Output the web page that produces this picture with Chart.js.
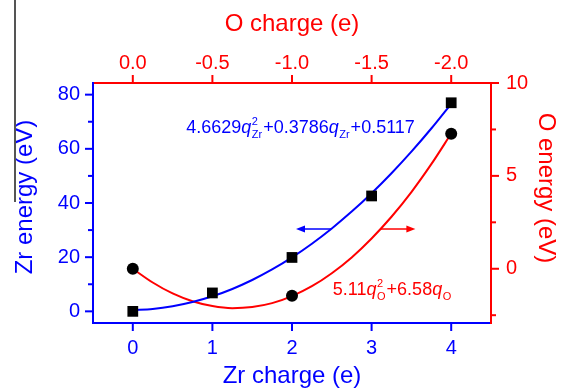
<!doctype html>
<html lang="en">
<head>
<meta charset="utf-8">
<title>Zr and O charge energy</title>
<script src="https://cdn.jsdelivr.net/npm/chart.js@4.4.1/dist/chart.umd.min.js"></script>
<style>
    html, body { margin: 0; padding: 0; background: #fff; }
    #wrap { position: relative; width: 564px; height: 392px; }
    #edge { position: absolute; left: 14px; top: 0; width: 2px; height: 202px; background: #555; }
</style>
</head>
<body>
<div id="wrap">
    <canvas id="myChart" width="564" height="392"></canvas>
    <div id="edge"></div>
</div>
<script>
    // measured points
    var zrCharge = [0, 1, 2, 3, 4]
    var zrEnergy = [0, 6.8, 19.9, 42.6, 77.0]
    var oCharge = [0, -1, -2]
    var oEnergy = [0, -1.45, 7.27]

    // fitted curves
    var zrFitCharge = [0, 0.25, 0.5, 0.75, 1, 1.25, 1.5, 1.75, 2, 2.25, 2.5, 2.75, 3, 3.25, 3.5, 3.75, 4]
    var zrFitEnergy = [0.51, 0.90, 1.87, 3.42, 5.55, 8.27, 11.57, 15.46, 19.92, 24.97, 30.60, 36.82, 43.61, 50.99, 58.96, 67.50, 76.63]
    var oFitCharge = [0, -0.125, -0.25, -0.375, -0.5, -0.625, -0.75, -0.875, -1, -1.125, -1.25, -1.375, -1.5, -1.625, -1.75, -1.875, -2]
    var oFitEnergy = [0, -0.74, -1.33, -1.75, -2.01, -2.12, -2.06, -1.85, -1.47, -0.94, -0.24, 0.61, 1.63, 2.80, 4.13, 5.63, 7.28]

    // axis ticks
    var zrChargeTicks = [0, 1, 2, 3, 4]
    var oChargeTicks = [0, -0.5, -1, -1.5, -2]
    var zrEnergyTicks = [0, 20, 40, 60, 80]
    var zrEnergyMinor = [10, 30, 50, 70]
    var oEnergyTicks = [0, 5, 10]
    var oEnergyMinor = [-2.5, 2.5, 7.5]

    var BLUE = '#0000ff'
    var RED = '#ff0000'
    var FONT = "'Liberation Sans', Arial, sans-serif"
    Chart.defaults.font.family = FONT

    function pts(xs, ys) {
        return xs.map(function (x, i) { return {x: x, y: ys[i]} })
    }
    function setTicks(list) {
        return function (s) { s.ticks = list.map(function (v) { return {value: v} }) }
    }
    function fixSize(prop, size) {
        return function (s) { s[prop] = size }
    }

    // tick marks drawn outward, major and minor
    var tickMarks = {
        x: {major: zrChargeTicks, minor: [], color: BLUE},
        x2: {major: oChargeTicks, minor: [], color: RED},
        y: {major: zrEnergyTicks, minor: zrEnergyMinor, color: BLUE},
        y2: {major: oEnergyTicks, minor: oEnergyMinor, color: RED}
    }

    var arrows = [
        {from: 2.49, to: 2.05, level: 30.4, yAxis: 'y', color: BLUE},
        {from: 3.11, to: 3.55, level: 2.14, yAxis: 'y2', color: RED}
    ]

    var equations = [
        {x: 0.671, y: 65.9, yAxis: 'y', color: BLUE,
         parts: [['4.6629'], ['q', '2', 'Zr'], ['+0.3786'], ['q', '', 'Zr'], ['+0.5117']]},
        {x: 2.513, y: -1.40, yAxis: 'y2', color: RED,
         parts: [['5.11'], ['q', '2', 'O'], ['+6.58'], ['q', '', 'O']]}
    ]

    var extras = {
        id: 'extras',
        afterDraw: function (chart) {
            var ctx = chart.ctx
            var sc = chart.scales
            ctx.save()

            // ticks
            ctx.lineWidth = 2
            Object.keys(tickMarks).forEach(function (id) {
                var s = sc[id], t = tickMarks[id]
                ctx.strokeStyle = t.color
                var draw = function (v, len) {
                    var p = s.getPixelForValue(v)
                    ctx.beginPath()
                    if (s.position === 'bottom') { ctx.moveTo(p, s.top); ctx.lineTo(p, s.top + len) }
                    else if (s.position === 'top') { ctx.moveTo(p, s.bottom); ctx.lineTo(p, s.bottom - len) }
                    else if (s.position === 'left') { ctx.moveTo(s.right, p); ctx.lineTo(s.right - len, p) }
                    else { ctx.moveTo(s.left, p); ctx.lineTo(s.left + len, p) }
                    ctx.stroke()
                }
                t.major.forEach(function (v) { draw(v, 8) })
                t.minor.forEach(function (v) { draw(v, 5) })
            })

            // arrows
            arrows.forEach(function (a) {
                var x1 = sc.x.getPixelForValue(a.from)
                var x2 = sc.x.getPixelForValue(a.to)
                var y = sc[a.yAxis].getPixelForValue(a.level)
                var dir = x2 > x1 ? 1 : -1
                ctx.strokeStyle = a.color
                ctx.fillStyle = a.color
                ctx.lineWidth = 1.5
                ctx.beginPath()
                ctx.moveTo(x1, y)
                ctx.lineTo(x2 - dir * 6, y)
                ctx.stroke()
                ctx.beginPath()
                ctx.moveTo(x2, y)
                ctx.lineTo(x2 - dir * 9, y - 3.5)
                ctx.lineTo(x2 - dir * 9, y + 3.5)
                ctx.closePath()
                ctx.fill()
            })

            // fit equations
            ctx.textBaseline = 'alphabetic'
            ctx.textAlign = 'left'
            equations.forEach(function (e) {
                var x = sc.x.getPixelForValue(e.x)
                var y = sc[e.yAxis].getPixelForValue(e.y)
                ctx.fillStyle = e.color
                e.parts.forEach(function (p) {
                    if (p.length === 1) {
                        ctx.font = '18px ' + FONT
                        ctx.fillText(p[0], x, y)
                        x += ctx.measureText(p[0]).width
                    } else {
                        ctx.font = 'italic 18px ' + FONT
                        ctx.fillText(p[0], x, y)
                        x += ctx.measureText(p[0]).width + 0.5
                        ctx.font = '11px ' + FONT
                        var w = 0
                        if (p[1]) { ctx.fillText(p[1], x, y - 8); w = ctx.measureText(p[1]).width }
                        ctx.fillText(p[2], x, y + 5)
                        w = Math.max(w, ctx.measureText(p[2]).width)
                        x += w + 1
                    }
                })
            })

            // y axis titles
            ctx.font = '24px ' + FONT
            ctx.textAlign = 'center'
            ctx.textBaseline = 'middle'
            ctx.fillStyle = BLUE
            ctx.translate(25, 197)
            ctx.rotate(-Math.PI / 2)
            ctx.fillText('Zr energy (eV)', 0, 0)
            ctx.setTransform(1, 0, 0, 1, 0, 0)
            ctx.fillStyle = RED
            ctx.translate(545.5, 188)
            ctx.rotate(Math.PI / 2)
            ctx.fillText('O energy (eV)', 0, 0)
            ctx.restore()
        }
    }

    var myChart = document.getElementById('myChart').getContext('2d')

    var chart = new Chart(myChart, {
        type: 'line',
        data: {
            datasets: [
                {
                    label: 'Zr',
                    data: pts(zrCharge, zrEnergy),
                    xAxisID: 'x', yAxisID: 'y',
                    showLine: false,
                    pointStyle: 'rect',
                    pointRadius: 7.6,
                    pointBackgroundColor: '#000',
                    pointBorderColor: '#000',
                    pointBorderWidth: 0
                },
                {
                    label: 'O',
                    data: pts(oCharge, oEnergy),
                    xAxisID: 'x2', yAxisID: 'y2',
                    showLine: false,
                    pointStyle: 'circle',
                    pointRadius: 6,
                    pointBackgroundColor: '#000',
                    pointBorderColor: '#000',
                    pointBorderWidth: 0
                },
                {
                    label: 'Zr fit',
                    data: pts(zrFitCharge, zrFitEnergy),
                    xAxisID: 'x', yAxisID: 'y',
                    borderColor: BLUE,
                    borderWidth: 2,
                    pointRadius: 0,
                    cubicInterpolationMode: 'monotone'
                },
                {
                    label: 'O fit',
                    data: pts(oFitCharge, oFitEnergy),
                    xAxisID: 'x2', yAxisID: 'y2',
                    borderColor: RED,
                    borderWidth: 2,
                    pointRadius: 0,
                    cubicInterpolationMode: 'monotone'
                }
            ]
        },
        options: {
            responsive: false,
            animation: false,
            devicePixelRatio: 1,
            layout: {padding: 0},
            plugins: {legend: {display: false}, tooltip: {enabled: false}},
            scales: {
                x: {
                    type: 'linear', position: 'bottom', min: -0.5, max: 4.5,
                    afterBuildTicks: setTicks(zrChargeTicks),
                    afterFit: fixSize('height', 69),
                    grid: {display: false, drawTicks: false},
                    border: {display: true, color: BLUE, width: 2},
                    ticks: {color: BLUE, font: {size: 20}, padding: 13, maxRotation: 0},
                    title: {display: true, text: 'Zr charge (e)', color: BLUE, font: {size: 24}, padding: {top: 0, bottom: 1}}
                },
                x2: {
                    type: 'linear', position: 'top', min: -2.25, max: 0.25, reverse: true,
                    afterBuildTicks: setTicks(oChargeTicks),
                    afterFit: fixSize('height', 83),
                    grid: {display: false, drawTicks: false},
                    border: {display: true, color: RED, width: 2},
                    ticks: {color: RED, font: {size: 20}, padding: 8, maxRotation: 0,
                        callback: function (v) { return v.toFixed(1) }},
                    title: {display: true, text: 'O charge (e)', color: RED, font: {size: 24}, padding: {top: 10, bottom: 0}}
                },
                y: {
                    type: 'linear', position: 'left', min: -4.3, max: 84.3,
                    afterBuildTicks: setTicks(zrEnergyTicks),
                    afterFit: fixSize('width', 93),
                    grid: {display: false, drawTicks: false},
                    border: {display: true, color: BLUE, width: 2},
                    ticks: {color: BLUE, font: {size: 20}, padding: 13}
                },
                y2: {
                    type: 'linear', position: 'right', min: -2.92, max: 10,
                    afterBuildTicks: setTicks(oEnergyTicks),
                    afterFit: fixSize('width', 73),
                    grid: {display: false, drawTicks: false},
                    border: {display: true, color: RED, width: 2},
                    ticks: {color: RED, font: {size: 20}, padding: 15}
                }
            }
        },
        plugins: [extras]
    })
</script>
</body>
</html>
